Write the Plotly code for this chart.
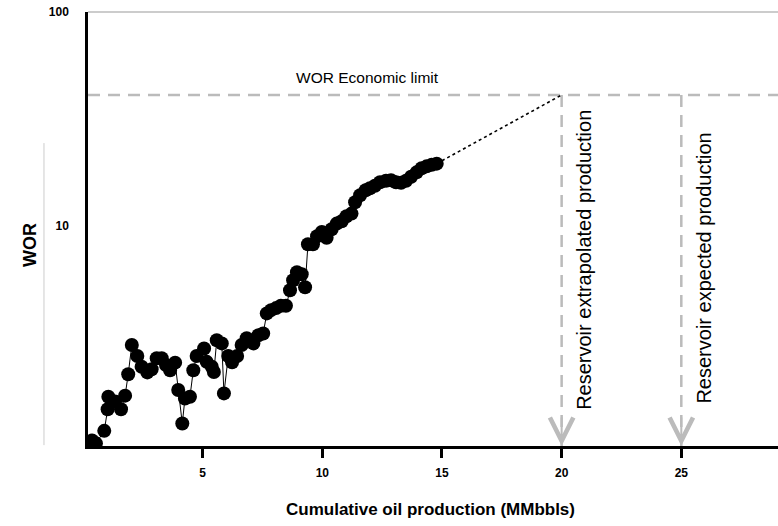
import math
import plotly.graph_objects as go

# Cumulative oil production (MMbbls) and water-oil ratio per point
cum_oil = [0.38, 0.54, 0.89, 1.03, 1.06, 1.34, 1.59, 1.76, 1.89, 2.04, 2.27, 2.45,
           2.69, 2.87, 3.08, 3.29, 3.47, 3.64, 3.85, 3.98, 4.15, 4.26, 4.47, 4.61,
           4.75, 5.06, 5.17, 5.38, 5.47, 5.59, 5.80, 5.89, 6.07, 6.23, 6.44, 6.63,
           6.84, 7.12, 7.33, 7.53, 7.68, 7.86, 8.07, 8.27, 8.48, 8.65, 8.78, 8.94,
           9.14, 9.28, 9.40, 9.61, 9.78, 9.98, 10.18, 10.39, 10.60, 10.81, 11.01,
           11.22, 11.37, 11.58, 11.81, 11.99, 12.20, 12.41, 12.66, 12.87, 13.08,
           13.29, 13.50, 13.71, 13.94, 14.15, 14.36, 14.57, 14.78]
wor = [1.00, 0.97, 1.11, 1.40, 1.60, 1.52, 1.40, 1.62, 2.04, 2.79, 2.48, 2.21,
       2.08, 2.15, 2.42, 2.42, 2.25, 2.13, 2.31, 1.72, 1.20, 1.57, 1.60, 2.13,
       2.48, 2.69, 2.33, 2.21, 2.09, 2.94, 2.84, 1.66, 2.48, 2.32, 2.48, 2.79,
       3.00, 2.84, 3.10, 3.16, 3.92, 4.06, 4.15, 4.26, 4.26, 5.03, 5.60, 6.10,
       5.97, 5.19, 8.24, 8.24, 8.98, 9.40, 8.84, 9.68, 10.29, 10.55, 11.13,
       11.46, 12.94, 13.95, 14.72, 15.04, 15.45, 16.04, 16.30, 16.39, 16.04,
       15.95, 16.30, 17.02, 17.85, 18.64, 19.04, 19.35, 19.60]

ECON_LIMIT = 41.0        # WOR economic limit
EXTRAPOLATED = 20.0      # reservoir extrapolated production, MMbbls
EXPECTED = 25.0          # reservoir expected production, MMbbls

x_ticks = [5, 10, 15, 20, 25]
y_ticks = [10, 100]

X_RANGE = [0.21, 29.04]
Y_MIN, Y_MAX = 0.943, 100.0

FONT = "Liberation Sans, Arial, sans-serif"
GREY = "#bbbbbb"

fig = go.Figure()

# economic limit
fig.add_trace(go.Scatter(
    x=X_RANGE, y=[ECON_LIMIT, ECON_LIMIT], mode="lines",
    line=dict(color=GREY, width=2.5, dash="12px,8px"), hoverinfo="skip"))

# production drop lines
for xv in (EXTRAPOLATED, EXPECTED):
    fig.add_trace(go.Scatter(
        x=[xv, xv], y=[ECON_LIMIT, Y_MIN], mode="lines",
        line=dict(color=GREY, width=2.5, dash="12px,8px"), hoverinfo="skip"))

# extrapolation of the trend to the economic limit
fig.add_trace(go.Scatter(
    x=[cum_oil[-1], EXTRAPOLATED], y=[wor[-1], ECON_LIMIT], mode="lines",
    line=dict(color="black", width=1.6, dash="dot"), hoverinfo="skip"))

# measured WOR
fig.add_trace(go.Scatter(
    x=cum_oil, y=wor, mode="lines+markers",
    line=dict(color="black", width=1),
    marker=dict(color="black", size=14)))

annotations = []
# arrow heads at the bottom of the drop lines
for xv in (EXTRAPOLATED, EXPECTED):
    annotations.append(dict(
        x=xv, y=math.log10(Y_MIN), xref="x", yref="y", text="",
        showarrow=True, arrowhead=5, arrowsize=2.3, arrowwidth=2,
        arrowcolor=GREY, ax=0, ay=-30))

annotations += [
    dict(x=11.87, y=math.log10(ECON_LIMIT), xref="x", yref="y",
         text="WOR Economic limit", showarrow=False, yanchor="bottom", yshift=7,
         font=dict(family=FONT, size=15.5, color="black")),
    dict(x=EXTRAPOLATED, y=0.8415, xref="x", yref="y",
         text="Reservoir extrapolated production", showarrow=False, textangle=-90,
         xanchor="center", yanchor="middle", xshift=23,
         font=dict(family=FONT, size=20, color="black")),
    dict(x=EXPECTED, y=0.804, xref="x", yref="y",
         text="Reservoir expected production", showarrow=False, textangle=-90,
         xanchor="center", yanchor="middle", xshift=23,
         font=dict(family=FONT, size=20, color="black")),
    dict(x=0, y=-0.037, xref="x", yref="paper", text="<b>0</b>", showarrow=False,
         xanchor="center", yanchor="middle", xshift=-4,
         font=dict(family=FONT, size=12, color="black")),
    dict(x=-0.084, y=0.463, xref="paper", yref="paper", text="<b>WOR</b>",
         showarrow=False, textangle=-90, xanchor="center", yanchor="middle",
         font=dict(family=FONT, size=18, color="black")),
    dict(x=0.4957, y=-0.147, xref="paper", yref="paper",
         text="<b>Cumulative oil production (MMbbls)</b>", showarrow=False,
         xanchor="center", yanchor="middle",
         font=dict(family=FONT, size=17, color="black")),
]

shapes = [
    dict(type="line", xref="paper", yref="paper", x0=0, x1=1, y0=1, y1=1,
         line=dict(color="#cccccc", width=2)),
    dict(type="line", xref="paper", yref="paper", x0=-0.0638, x1=-0.0638,
         y0=0.002, y1=0.698, line=dict(color="#cccccc", width=1)),
]

fig.update_layout(
    width=778, height=526,
    margin=dict(l=88, r=0, t=12, b=80),
    paper_bgcolor="white", plot_bgcolor="white",
    showlegend=False,
    annotations=annotations,
    shapes=shapes,
    xaxis=dict(
        range=X_RANGE, tickvals=x_ticks, ticktext=[f"<b>{v}</b>" for v in x_ticks],
        showgrid=False, zeroline=False, showline=True, linecolor="black",
        linewidth=2.5, ticks="outside", ticklen=9, tickwidth=2.5, tickcolor="black",
        ticklabelstandoff=5, tickfont=dict(family=FONT, size=12, color="black")),
    yaxis=dict(
        type="log", range=[math.log10(Y_MIN), math.log10(Y_MAX)],
        tickvals=y_ticks, ticktext=[f"<b>{v}</b>" for v in y_ticks],
        showgrid=False, zeroline=False, showline=True, linecolor="black",
        linewidth=2.5, ticks="", ticklabelstandoff=14,
        tickfont=dict(family=FONT, size=12, color="black")),
)

fig.write_html("out.html")
